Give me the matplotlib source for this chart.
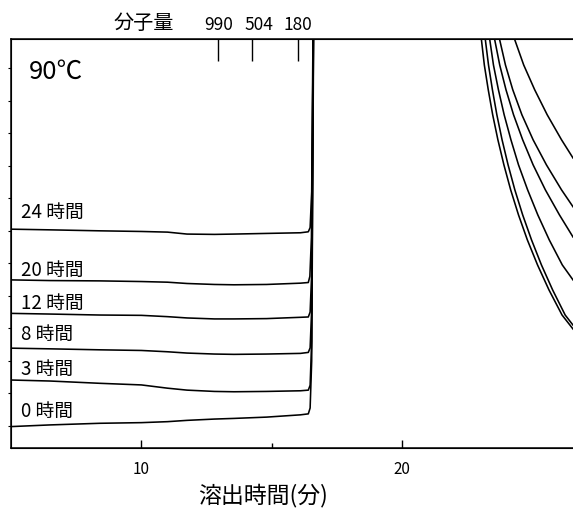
import matplotlib
matplotlib.use("Agg")
import matplotlib.pyplot as plt
from matplotlib.transforms import ScaledTranslation

plt.rcParams['font.family'] = ['Noto Sans CJK JP', 'DejaVu Sans']

# ---- data (time in min, signal in arbitrary units) ----
hours = ['0 時間', '3 時間', '8 時間', '12 時間', '20 時間', '24 時間']

# baselines (shared time grid)
t_base = [5.05, 6.5, 8.4, 10.0, 11.0, 11.75, 12.8, 13.55, 14.8, 16.1, 16.4]
base_0h = [-0.02, 0.03, 0.08, 0.10, 0.13, 0.17, 0.21, 0.23, 0.27, 0.34, 0.37]
base_3h = [1.41, 1.38, 1.31, 1.26, 1.16, 1.10, 1.06, 1.05, 1.06, 1.08, 1.10]
base_8h = [2.39, 2.37, 2.34, 2.32, 2.28, 2.24, 2.21, 2.20, 2.21, 2.23, 2.26]
base_12h = [3.46, 3.44, 3.41, 3.40, 3.36, 3.32, 3.29, 3.29, 3.30, 3.34, 3.35]
base_20h = [4.49, 4.47, 4.46, 4.44, 4.42, 4.38, 4.35, 4.34, 4.35, 4.39, 4.41]
base_24h = [6.05, 6.03, 6.00, 5.98, 5.96, 5.90, 5.89, 5.90, 5.92, 5.94, 5.97]

# front of the main peak
rise_t_0h, rise_s_0h = [16.47, 16.53, 16.61], [0.55, 2.0, 13.0]
rise_t_3h, rise_s_3h = [16.47, 16.53, 16.60], [1.25, 2.6, 13.0]
rise_t_8h, rise_s_8h = [16.47, 16.53, 16.59], [2.40, 3.6, 13.0]
rise_t_12h, rise_s_12h = [16.47, 16.53, 16.61], [3.50, 4.7, 13.0]
rise_t_20h, rise_s_20h = [16.46, 16.52, 16.60], [4.60, 5.8, 13.0]
rise_t_24h, rise_s_24h = [16.47, 16.53, 16.59], [6.10, 7.2, 13.0]

# descending tail on the right
tail_t_0h = [22.88, 23.04, 23.15, 23.30, 23.47, 23.67, 23.90, 24.16, 24.46, 24.80, 25.19, 25.63, 26.13, 26.55]
tail_s_0h = [13.0, 11.87, 11.10, 10.34, 9.57, 8.80, 8.03, 7.26, 6.49, 5.72, 4.95, 4.18, 3.41, 2.98]
tail_t_3h = [23.01, 23.19, 23.31, 23.46, 23.63, 23.83, 24.06, 24.32, 24.62, 24.96, 25.34, 25.77, 26.25, 26.55]
tail_s_3h = [13.0, 11.87, 11.10, 10.34, 9.57, 8.80, 8.03, 7.26, 6.49, 5.72, 4.95, 4.18, 3.41, 3.10]
tail_t_8h = [23.16, 23.36, 23.50, 23.69, 23.91, 24.17, 24.46, 24.81, 25.20, 25.64, 26.14, 26.55]
tail_s_8h = [13.0, 11.87, 11.10, 10.34, 9.57, 8.80, 8.03, 7.26, 6.49, 5.72, 4.95, 4.49]
tail_t_12h = [23.27, 23.55, 23.74, 23.98, 24.27, 24.62, 25.02, 25.49, 26.03, 26.55]
tail_s_12h = [13.0, 11.87, 11.10, 10.34, 9.57, 8.80, 8.03, 7.26, 6.49, 5.81]
tail_t_20h = [23.42, 23.74, 23.96, 24.24, 24.59, 25.02, 25.53, 26.11, 26.55]
tail_s_20h = [13.0, 11.87, 11.10, 10.34, 9.57, 8.80, 8.03, 7.26, 6.74]
tail_t_24h = [23.82, 24.32, 24.66, 25.08, 25.56, 26.11, 26.55]
tail_s_24h = [13.0, 11.87, 11.10, 10.34, 9.57, 8.80, 8.24]

# label heights for each trace
label_y = [0.43, 1.75, 2.80, 3.75, 4.77, 6.55]

# molecular weight markers (top axis)
mw_time = [12.95, 14.25, 16.0]
mw_labels = ['990', '504', '180']

series = [
    (base_0h, rise_t_0h, rise_s_0h, tail_t_0h, tail_s_0h),
    (base_3h, rise_t_3h, rise_s_3h, tail_t_3h, tail_s_3h),
    (base_8h, rise_t_8h, rise_s_8h, tail_t_8h, tail_s_8h),
    (base_12h, rise_t_12h, rise_s_12h, tail_t_12h, tail_s_12h),
    (base_20h, rise_t_20h, rise_s_20h, tail_t_20h, tail_s_20h),
    (base_24h, rise_t_24h, rise_s_24h, tail_t_24h, tail_s_24h),
]

fig = plt.figure(figsize=(5.73, 5.09), dpi=100)
ax = fig.add_axes([11 / 573, 1 - 448 / 509, 1 - 11 / 573, (448 - 39) / 509])

for (base, rt, rs, tt, ts), lab, ly in zip(series, hours, label_y):
    ax.plot(t_base + rt + tt, base + rs + ts, color='black', lw=1.15,
            solid_joinstyle='round')
    ax.text(5.4, ly, lab, fontsize=13.5, ha='left', va='center')

ax.set_xlim(5, 26.55)
ax.set_ylim(-0.68, 11.9)

ax.spines['right'].set_visible(False)
for s in ['left', 'top', 'bottom']:
    ax.spines[s].set_linewidth(1.1)

ax.set_xticks([10, 20])
ax.set_xticks([15], minor=True)
ax.tick_params(axis='x', which='major', direction='in', length=6, width=1, labelsize=11, pad=9.5)
ax.tick_params(axis='x', which='minor', direction='in', length=3.5, width=1)
ax.set_yticks(range(0, 12))
ax.tick_params(axis='y', direction='out', length=2, width=0.8, labelleft=False)

# top axis with molecular weight ticks
ax2 = ax.twiny()
ax2.set_xlim(ax.get_xlim())
ax2.set_xticks(mw_time)
ax2.set_xticklabels(mw_labels)
ax2.tick_params(axis='x', direction='in', length=16, width=1, labelsize=12.5, pad=3.5)
ax2.spines['right'].set_visible(False)
# the "504" label sits a little right of its tick in the original
lbl = ax2.get_xticklabels()[1]
lbl.set_transform(lbl.get_transform() + ScaledTranslation(0.07, 0, fig.dpi_scale_trans))
ax2.text(10.1, 1.038, '分子量', transform=ax.get_xaxis_transform(),
         fontsize=14.5, ha='center', va='center')

ax.text(5.67, 10.89, '90℃', fontsize=18.5, ha='left', va='center')

fig.text(263 / 573, 1 - 495 / 509, '溶出時間(分)', fontsize=16.5, ha='center', va='center')

fig.savefig('out.png', dpi=100)
